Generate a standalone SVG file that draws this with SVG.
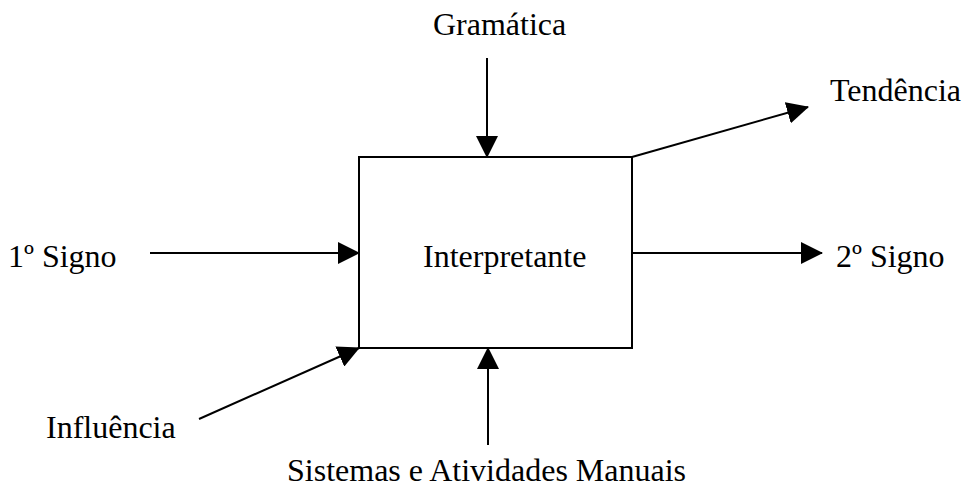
<svg xmlns="http://www.w3.org/2000/svg" width="967" height="488" viewBox="0 0 967 488">
<style>
text{font-family:"Liberation Serif","Times New Roman",serif;font-size:32px;fill:#000}
.c{fill:none;stroke:#000;stroke-width:2}
</style>
<defs>
<marker id="ah" markerUnits="userSpaceOnUse" markerWidth="22" markerHeight="22" viewBox="0 0 22 22" refX="21" refY="11" orient="auto">
<path d="M0,0 L22,11 L0,22 Z" fill="#000"/>
</marker>
</defs>
<rect width="967" height="488" fill="#fff"/>
<g id="interpretante">
<rect x="359" y="157" width="273" height="191" fill="#fff" stroke="#000" stroke-width="2"/>
<text x="423" y="267">Interpretante</text>
</g>
<g id="gramatica"><text x="433" y="35">Gramática</text></g>
<g id="tendencia"><text x="830" y="101">Tendência</text></g>
<g id="signo1"><text x="8" y="267">1º Signo</text></g>
<g id="signo2"><text x="836" y="267">2º Signo</text></g>
<g id="influencia"><text x="46" y="438">Influência</text></g>
<g id="sistemas"><text x="287" y="481">Sistemas e Atividades Manuais</text></g>
<g id="connectors">
<line class="c" x1="487" y1="58" x2="487" y2="157" marker-end="url(#ah)"/>
<line class="c" x1="632" y1="157" x2="808" y2="107" marker-end="url(#ah)"/>
<line class="c" x1="150" y1="253" x2="359" y2="253" marker-end="url(#ah)"/>
<line class="c" x1="632" y1="253" x2="822" y2="253" marker-end="url(#ah)"/>
<line class="c" x1="199" y1="419" x2="359" y2="348" marker-end="url(#ah)"/>
<line class="c" x1="488" y1="445" x2="488" y2="348" marker-end="url(#ah)"/>
</g>
</svg>
